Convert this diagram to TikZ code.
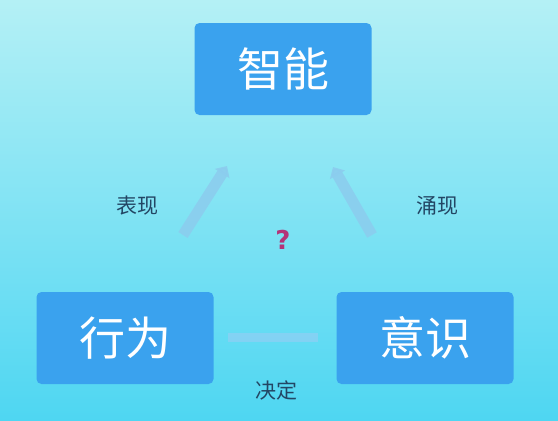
\documentclass[tikz,border=0pt]{standalone}
\usepackage{fontspec}
\newfontfamily\cjk{Noto Sans CJK SC}
\newfontfamily\cjkb{Noto Sans CJK SC Bold}
\setsansfont{DejaVu Sans}
\usetikzlibrary{arrows.meta}
\definecolor{bgtop}{RGB}{180,240,245}
\definecolor{bgbot}{RGB}{78,214,242}
\definecolor{boxblue}{RGB}{58,162,238}
\definecolor{arrowblue}{RGB}{140,204,238}
\definecolor{lblcol}{RGB}{35,70,100}
\definecolor{qcol}{RGB}{180,50,120}
\begin{document}
\begin{tikzpicture}[x=1pt,y=-1pt,
  box/.style={fill=boxblue, rounded corners=5pt, minimum width=177pt, minimum height=92pt, inner sep=0pt, text=white, font=\cjk\fontsize{46}{50}\selectfont},
  lbl/.style={text=lblcol, font=\cjk\fontsize{21}{24}\selectfont, inner sep=0pt},
  link/.style={draw=arrowblue, line width=11pt, -{Triangle[width=17pt,length=9pt]}, opacity=0.85}]
\shade[top color=bgtop, bottom color=bgbot] (0,0) rectangle (558,421);
\useasboundingbox (0,0) rectangle (558,421);
\node[box] (zn) at (283,69) {智能};
\node[box] (xw) at (125,338) {行为};
\node[box] (ys) at (425,338) {意识};
\coordinate (a1s) at (183,235);
\coordinate (a1e) at (227,166);
\coordinate (a2s) at (372,235);
\coordinate (a2e) at (333,167);
\draw[link] (a1s) -- (a1e);
\draw[link] (a2s) -- (a2e);
\coordinate (b1) at (228,337);
\coordinate (b2) at (318,337);
\draw[draw={rgb,255:red,170;green,200;blue,245}, line width=9pt, opacity=0.45] (b1) -- (b2);
\node[lbl] (l1) at (137,206) {表现};
\node[lbl] (l2) at (437,206) {涌现};
\node[lbl] (l3) at (276,390) {决定};
\node[text=qcol, font=\sffamily\bfseries\fontsize{26}{28}\selectfont, inner sep=0pt] (q) at (283,240) {?};
\end{tikzpicture}
\end{document}
